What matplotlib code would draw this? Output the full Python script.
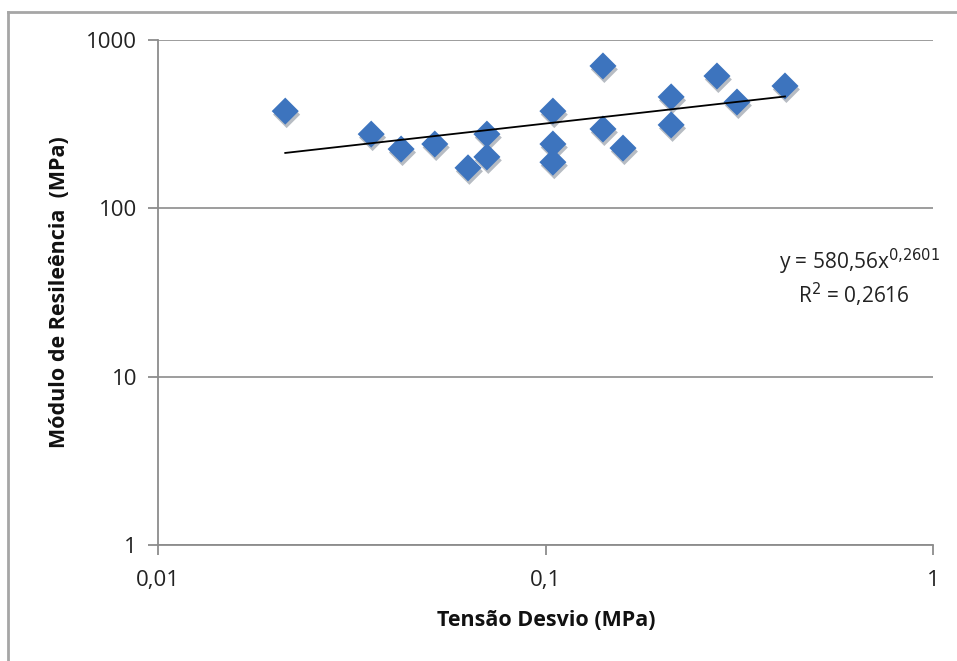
import matplotlib.pyplot as plt
import matplotlib.patheffects as pe
from matplotlib.lines import Line2D
from matplotlib.ticker import FixedLocator, NullLocator
import numpy as np

plt.rcParams['font.family'] = ['Open Sans', 'DejaVu Sans']

# data
tensao = [0.0213, 0.0355, 0.0424, 0.0518, 0.0631, 0.0706, 0.0706, 0.1045, 0.1045,
          0.1045, 0.1407, 0.1407, 0.1585, 0.211, 0.211, 0.277, 0.312, 0.415]
modulo = [378, 276, 225, 241, 174, 276, 202, 378, 241,
          188, 701, 296, 228, 459, 313, 611, 428, 533]

# trendline (power fit shown on the chart)
coef_a = 580.56
coef_b = 0.2601
r2_text = "0,2616"

x_ticks = [0.01, 0.1, 1]
x_labels = ["0,01", "0,1", "1"]
y_ticks = [1, 10, 100, 1000]
y_labels = ["1", "10", "100", "1000"]

W, H = 957, 661
fig = plt.figure(figsize=(W / 100, H / 100), dpi=100)
ax = fig.add_axes([158 / W, 1 - 545 / H, (933 - 158) / W, (545 - 40) / H])

# chart area border (left and top only visible)
fig.add_artist(Line2D([8 / W, 8 / W], [0, 1 - 12 / H], transform=fig.transFigure,
                      color="#a6a6a6", lw=2))
fig.add_artist(Line2D([8 / W, 1], [1 - 12 / H, 1 - 12 / H], transform=fig.transFigure,
                      color="#a6a6a6", lw=2))

ax.set_xscale("log")
ax.set_yscale("log")
ax.set_xlim(0.01, 1)
ax.set_ylim(1, 1000)

ax.scatter(tensao, modulo, marker="D", s=190, color="#3D74BE", zorder=3, linewidths=0,
           path_effects=[pe.SimplePatchShadow(offset=(1, -2.5), alpha=0.3), pe.Normal()])

xs = np.geomspace(min(tensao), max(tensao), 50)
ax.plot(xs, coef_a * xs ** coef_b, color="black", lw=1.3, zorder=4)

ax.text(1.009, 0.56, "y = 580,56x$^{0{,}2601}$", transform=ax.transAxes, ha="right", va="center",
        fontsize=15, color="#222222")
ax.text(0.970, 0.495, "R$^2$ = " + r2_text, transform=ax.transAxes, ha="right", va="center",
        fontsize=15, color="#222222")

ax.xaxis.set_major_locator(FixedLocator(x_ticks))
ax.xaxis.set_minor_locator(NullLocator())
ax.set_xticklabels(x_labels)
ax.yaxis.set_major_locator(FixedLocator(y_ticks))
ax.yaxis.set_minor_locator(NullLocator())
ax.set_yticklabels(y_labels)

ax.grid(axis="y", color="#8c8c8c", lw=1.2)
ax.set_axisbelow(True)
for side in ["top", "right"]:
    ax.spines[side].set_visible(False)
for side in ["left", "bottom"]:
    ax.spines[side].set_color("#8c8c8c")
    ax.spines[side].set_linewidth(1.3)
ax.tick_params(axis="both", which="major", length=7, width=1.3, color="#8c8c8c",
               labelsize=16, labelcolor="#222222")
ax.tick_params(axis="x", pad=11)
ax.tick_params(axis="y", pad=8)

fig.text(546 / W, 1 - 620 / H, "Tensão Desvio (MPa)", ha="center", va="center",
         fontsize=15.5, fontweight="bold", color="#111111")
fig.text(60 / W, 1 - 292 / H, "Módulo de Resileência  (MPa)", ha="center", va="center",
         rotation=90, fontsize=15.5, fontweight="bold", color="#111111")

fig.savefig("out.png", dpi=100)
